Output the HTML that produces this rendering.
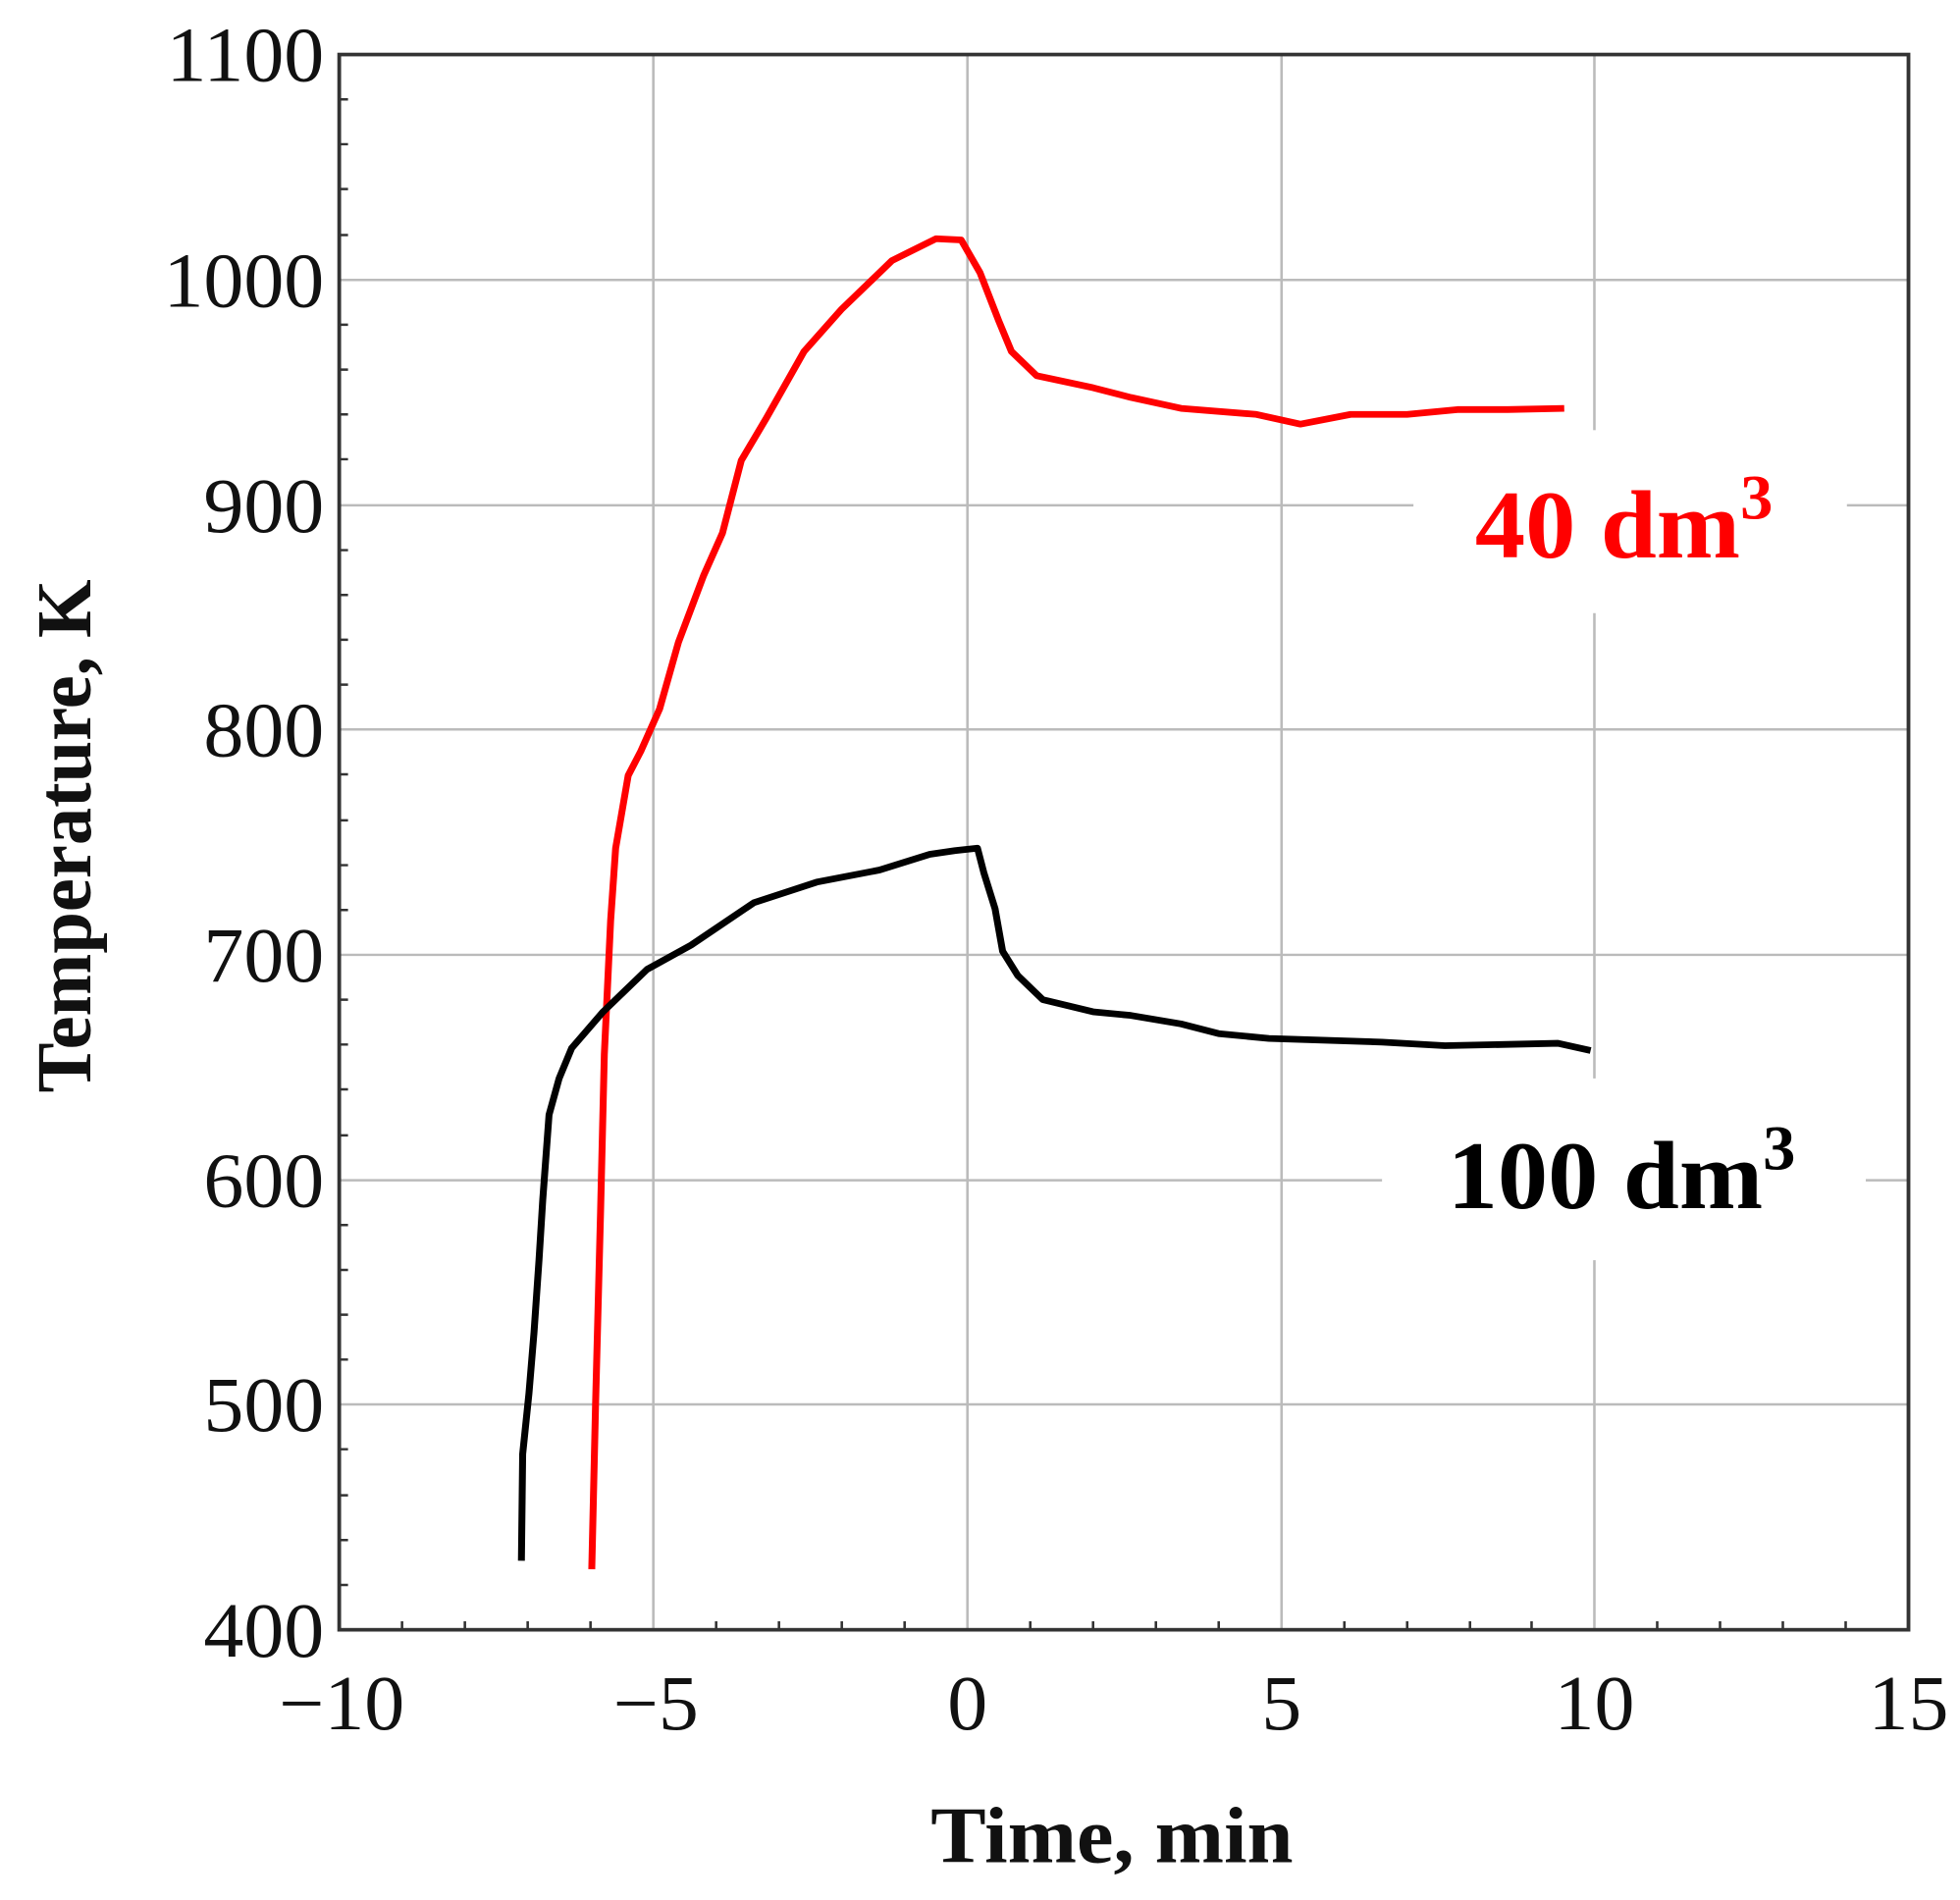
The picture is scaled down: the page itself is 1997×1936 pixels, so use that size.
<!DOCTYPE html>
<html><head><meta charset="utf-8"><style>html,body{margin:0;padding:0;background:#fff}svg{display:block}</style></head>
<body>
<svg width="1997" height="1936" viewBox="0 0 1560 1568" preserveAspectRatio="none" xmlns="http://www.w3.org/2000/svg" font-family="Liberation Serif, serif">
<rect width="1560" height="1568" fill="#fff"/>
<g stroke="#bbb" stroke-width="2">
<line x1="520" y1="45" x2="520" y2="1345"/><line x1="770" y1="45" x2="770" y2="1345"/><line x1="1020" y1="45" x2="1020" y2="1345"/><line x1="1269" y1="45" x2="1269" y2="1345"/>
<line x1="270" y1="231" x2="1519" y2="231"/><line x1="270" y1="417" x2="1519" y2="417"/><line x1="270" y1="602" x2="1519" y2="602"/><line x1="270" y1="788" x2="1519" y2="788"/><line x1="270" y1="974" x2="1519" y2="974"/><line x1="270" y1="1159" x2="1519" y2="1159"/>
</g>
<rect x="1125" y="355" width="345" height="151" fill="#fff"/>
<rect x="1100" y="890" width="385" height="150" fill="#fff"/>
<g stroke="#333" stroke-width="2">
<path d="M320 1345v-7M370 1345v-7M420 1345v-7M470 1345v-7M570 1345v-7M620 1345v-7M670 1345v-7M720 1345v-7M820 1345v-7M870 1345v-7M920 1345v-7M970 1345v-7M1070 1345v-7M1120 1345v-7M1170 1345v-7M1219 1345v-7M1319 1345v-7M1369 1345v-7M1419 1345v-7M1469 1345v-7"/>
<path d="M270 82h7M270 119h7M270 156h7M270 194h7M270 268h7M270 305h7M270 342h7M270 379h7M270 454h7M270 491h7M270 528h7M270 565h7M270 639h7M270 677h7M270 714h7M270 751h7M270 825h7M270 862h7M270 899h7M270 937h7M270 1011h7M270 1048h7M270 1085h7M270 1122h7M270 1196h7M270 1234h7M270 1271h7M270 1308h7"/>
</g>
<rect x="270" y="45" width="1249" height="1300" fill="none" stroke="#333" stroke-width="3"/>
<polyline fill="none" stroke="#f00" stroke-width="5.5" stroke-linejoin="round" points="471,1295 474,1160 478,1000 481,870 486,760 490,700 500,640 510,620 525,585 540,530 560,475 575,440 590,380 610,345 640,290 670,255 710,215 745,197 765,198 780,225 795,265 805,290 825,310 870,320 900,328 940,337 1000,342 1035,350 1075,342 1120,342 1160,338 1200,338 1245,337"/>
<polyline fill="none" stroke="#000" stroke-width="5.5" stroke-linejoin="round" points="415,1288 416,1200 421,1150 425,1100 429,1040 432,990 437,920 445,890 455,865 480,835 515,800 550,780 600,745 650,728 700,718 740,705 760,702 778,700 783,720 792,750 798,785 810,805 830,825 870,835 900,838 940,845 970,853 1010,857 1100,860 1150,863 1240,861 1266,867"/>
<g font-size="64" fill="#111" text-anchor="end">
<text x="258" y="67">1100</text><text x="258" y="253">1000</text><text x="258" y="439">900</text><text x="258" y="624">800</text><text x="258" y="810">700</text><text x="258" y="996">600</text><text x="258" y="1181">500</text><text x="258" y="1367">400</text>
</g>
<g font-size="64" fill="#111" text-anchor="middle">
<text x="272" y="1427">−10</text><text x="522" y="1427">−5</text><text x="770" y="1427">0</text><text x="1020" y="1427">5</text><text x="1269" y="1427">10</text><text x="1519" y="1427">15</text>
</g>
<text x="885" y="1537" font-size="66" font-weight="bold" text-anchor="middle" fill="#111">Time, min</text>
<text transform="translate(72,690) rotate(-90)" font-size="62" font-weight="bold" text-anchor="middle" fill="#111">Temperature, K</text>
<text x="1174" y="460" font-size="80" font-weight="bold" fill="#f00">40 dm<tspan font-size="52" dy="-32">3</tspan></text>
<text x="1152" y="997" font-size="80" font-weight="bold" fill="#000">100 dm<tspan font-size="52" dy="-32">3</tspan></text>
</svg>
</body></html>
